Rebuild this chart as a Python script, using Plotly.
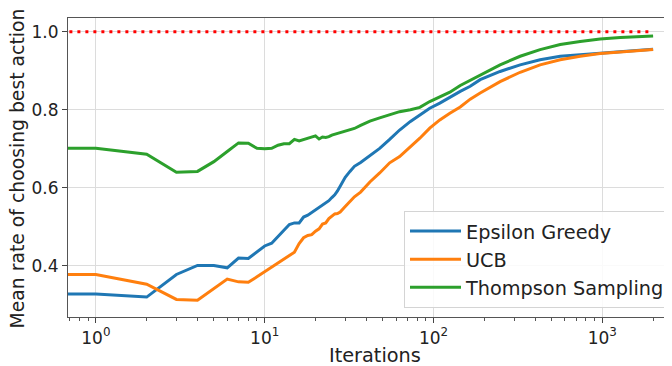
import plotly.graph_objects as go

# ---- data ----
iterations = [0, 1, 2, 3, 4, 5, 6, 7, 8, 9, 10, 11, 12, 13, 14, 15, 16, 17, 18, 19,
              20, 21, 22, 23, 24, 25, 26, 27, 28, 30, 32, 34, 37, 42, 48, 55, 63,
              73, 83, 95, 109, 125, 144, 165, 189, 248, 326, 428, 563, 739, 970,
              1277, 1999]

epsilon_greedy = [0.328, 0.328, 0.320, 0.378, 0.401, 0.401, 0.395, 0.420, 0.419, 0.436,
                  0.451, 0.458, 0.474, 0.491, 0.506, 0.510, 0.510, 0.525, 0.530, 0.537,
                  0.543, 0.549, 0.557, 0.561, 0.567, 0.575, 0.582, 0.592, 0.603, 0.627,
                  0.642, 0.655, 0.665, 0.682, 0.701, 0.724, 0.748, 0.770, 0.787, 0.804,
                  0.817, 0.832, 0.847, 0.860, 0.877, 0.898, 0.915, 0.928, 0.937, 0.941,
                  0.945, 0.949, 0.955]

ucb = [0.378, 0.378, 0.353, 0.314, 0.312, 0.342, 0.366, 0.359, 0.358, 0.372,
       0.385, 0.396, 0.406, 0.417, 0.427, 0.435, 0.457, 0.472, 0.478, 0.480,
       0.489, 0.495, 0.507, 0.510, 0.521, 0.528, 0.533, 0.534, 0.538, 0.552,
       0.565, 0.577, 0.589, 0.615, 0.638, 0.664, 0.680, 0.705, 0.727, 0.753,
       0.774, 0.791, 0.807, 0.827, 0.843, 0.872, 0.896, 0.915, 0.928, 0.937,
       0.944, 0.948, 0.954]

thompson = [0.701, 0.701, 0.686, 0.640, 0.642, 0.667, 0.693, 0.715, 0.714, 0.701,
            0.700, 0.701, 0.709, 0.713, 0.713, 0.724, 0.720, 0.724, 0.727, 0.730,
            0.733, 0.725, 0.730, 0.729, 0.731, 0.735, 0.737, 0.740, 0.742, 0.744,
            0.748, 0.752, 0.760, 0.771, 0.779, 0.787, 0.795, 0.800, 0.806, 0.821,
            0.833, 0.845, 0.862, 0.875, 0.889, 0.915, 0.937, 0.954, 0.967, 0.975,
            0.981, 0.985, 0.989]

optimal_iters = [0, 1999]
optimal_rate = [1.0, 1.0]

series_names = ["Epsilon Greedy", "UCB", "Thompson Sampling"]
series_colors = ["#1f77b4", "#ff7f0e", "#2ca02c"]

x_tickvals = [1, 10, 100, 1000]
x_ticktext = ["10<sup>0</sup>", "10<sup>1</sup>", "10<sup>2</sup>", "10<sup>3</sup>"]
y_tickvals = [0.4, 0.6, 0.8, 1.0]
y_ticktext = ["0.4", "0.6", "0.8", "1.0"]


def clip_log(xs):
    # like matplotlib's log-scale clipping: non-positive x goes far to the left
    return [x if x > 0 else 1e-3 for x in xs]


minor_vals = [m * 10 ** e for e in range(-1, 4) for m in range(2, 10)]

FONT = "DejaVu Sans"
fig = go.Figure()

fig.add_trace(go.Scatter(
    x=clip_log(optimal_iters), y=optimal_rate, mode="lines",
    line=dict(color="red", width=3, dash="3px,5px"),
    showlegend=False, hoverinfo="skip"))

for name, vals, col in zip(series_names, [epsilon_greedy, ucb, thompson], series_colors):
    fig.add_trace(go.Scatter(
        x=clip_log(iterations), y=vals, mode="lines", name=name,
        line=dict(color=col, width=3)))

# The page body has an 8px margin; the figure is laid out so that the
# axes land where the reference has them (the right side is cropped, as in it).
L, T, B, R = 60, 10, 57, 7
W, H = 680, 366
plot_w = W - L - R
plot_h = H - T - B
bottom_px = H - B

fig.update_layout(
    width=W, height=H,
    margin=dict(l=L, r=R, t=T, b=B, pad=0, autoexpand=False),
    paper_bgcolor="white", plot_bgcolor="white",
    font=dict(family=FONT, color="#222", size=17),
    showlegend=True,
    legend=dict(
        x=(663 - L) / plot_w, xanchor="right",
        y=(bottom_px - 300) / plot_h, yanchor="bottom",
        bgcolor="rgba(255,255,255,0.85)", bordercolor="#d4d4d4", borderwidth=1,
        font=dict(family=FONT, size=19.3, color="#222"),
        itemwidth=51,
    ),
    xaxis=dict(
        type="log", range=[-0.165, 3.466], automargin=False,
        tickvals=x_tickvals, ticktext=x_ticktext,
        tickfont=dict(family=FONT, size=17, color="#222"),
        ticks="outside", ticklen=5, tickwidth=1, tickcolor="#444",
        showgrid=True, gridcolor="#dcdcdc", gridwidth=1,
        showline=True, linecolor="#555", linewidth=1.2, mirror=True,
        zeroline=False,
        minor=dict(tickvals=minor_vals, ticks="outside", ticklen=3, tickwidth=1,
                   tickcolor="#555", showgrid=False),
    ),
    yaxis=dict(
        range=[0.269, 1.035], automargin=False,
        tickvals=y_tickvals, ticktext=y_ticktext,
        tickfont=dict(family=FONT, size=17, color="#222"),
        ticks="outside", ticklen=5, tickwidth=1, tickcolor="#444",
        showgrid=True, gridcolor="#dcdcdc", gridwidth=1,
        showline=True, linecolor="#555", linewidth=1.2, mirror=True,
        zeroline=False,
    ),
    annotations=[
        dict(text="Mean rate of choosing best action", textangle=-90,
             xref="paper", yref="paper", x=(9 - L) / plot_w, y=0.497,
             xanchor="center", yanchor="middle", showarrow=False,
             font=dict(family=FONT, size=18.8, color="#222")),
        dict(text="Iterations",
             xref="paper", yref="paper", x=0.5,
             y=-(334 - bottom_px) / plot_h,
             xanchor="center", yanchor="top", showarrow=False,
             font=dict(family=FONT, size=19.3, color="#222")),
    ],
)

fig.write_html("out.html")
